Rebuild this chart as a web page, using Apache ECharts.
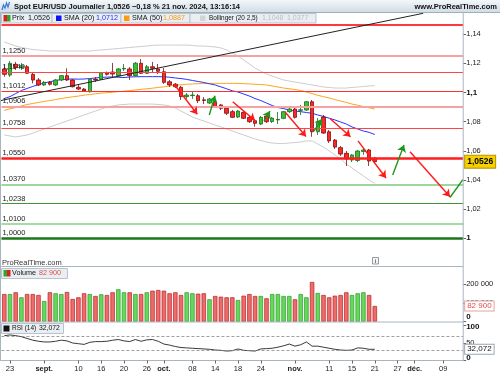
<!DOCTYPE html>
<html><head><meta charset="utf-8">
<script src="https://cdn.jsdelivr.net/npm/echarts@6/dist/echarts.min.js"></script>
<style>html,body{margin:0;padding:0;background:#fff}#c{width:500px;height:375px}</style>
</head><body><div id="c"></div>
<script>
// ---------- DATA (index -1 = 22 Aug 2024 ... 64 = 21 Nov 2024) ----------
const candleOpen  = [1.1162,1.1120,1.1194,1.1171,1.1177,1.1125,1.1086,1.1052,1.1070,1.1052,1.1086,1.1116,1.1086,1.1036,1.1024,1.1006,1.1091,1.1091,1.1136,1.1141,1.1116,1.1162,1.1162,1.1116,1.1201,1.1132,1.1177,1.1162,1.1143,1.1074,1.1057,1.1036,1.0972,1.0979,1.0978,1.0950,1.0928,1.0937,1.0915,1.0892,1.0869,1.0832,1.0864,1.0830,1.0807,1.0784,1.0839,1.0801,1.0812,1.0823,1.0869,1.0887,1.0878,1.0880,1.0937,1.0731,1.0832,1.0731,1.0674,1.0622,1.0583,1.0537,1.0534,1.0596,1.0606,1.0549];
const candleClose = [1.1125,1.1201,1.1171,1.1184,1.1132,1.1086,1.1052,1.1070,1.1057,1.1086,1.1116,1.1086,1.1040,1.1024,1.1011,1.1091,1.1086,1.1136,1.1125,1.1127,1.1162,1.1166,1.1116,1.1201,1.1132,1.1177,1.1166,1.1146,1.1070,1.1052,1.1040,1.0972,1.0983,1.0983,1.0944,1.0946,1.0956,1.0903,1.0892,1.0858,1.0830,1.0873,1.0823,1.0800,1.0789,1.0830,1.0800,1.0825,1.0816,1.0869,1.0887,1.0830,1.0882,1.0937,1.0731,1.0800,1.0722,1.0668,1.0626,1.0578,1.0544,1.0572,1.0599,1.0606,1.0530,1.0526];
const candleLow   = [1.1109,1.1107,1.1155,1.1155,1.1127,1.1063,1.1045,1.1045,1.1048,1.1045,1.1079,1.1079,1.1035,1.1018,1.1004,1.1000,1.1072,1.1086,1.1117,1.1107,1.1110,1.1148,1.1086,1.1110,1.1127,1.1127,1.1141,1.1127,1.1059,1.1038,1.1031,1.0949,1.0956,1.0956,1.0928,1.0921,1.0921,1.0894,1.0880,1.0846,1.0825,1.0825,1.0818,1.0791,1.0766,1.0777,1.0791,1.0791,1.0784,1.0818,1.0860,1.0822,1.0846,1.0873,1.0697,1.0709,1.0716,1.0654,1.0613,1.0565,1.0496,1.0523,1.0523,1.0572,1.0496,1.0517];
const candleHigh  = [1.1189,1.1216,1.1210,1.1203,1.1189,1.1134,1.1100,1.1079,1.1079,1.1093,1.1120,1.1166,1.1093,1.1052,1.1031,1.1093,1.1107,1.1141,1.1144,1.1203,1.1168,1.1196,1.1175,1.1210,1.1230,1.1189,1.1210,1.1196,1.1168,1.1086,1.1066,1.1045,1.0997,1.1004,1.0990,1.0969,1.0963,1.0949,1.0921,1.0901,1.0880,1.0880,1.0873,1.0839,1.0818,1.0839,1.0853,1.0832,1.0867,1.0873,1.0901,1.0894,1.0915,1.0942,1.0949,1.0825,1.0846,1.0743,1.0681,1.0633,1.0599,1.0578,1.0606,1.0620,1.0613,1.0558];
const volume = [146000,146000,155200,128800,146000,146000,141000,109300,155200,150000,146000,156800,119900,128800,150000,146000,135700,144700,141000,155200,171100,155200,155200,146000,146000,155200,163700,167400,163700,150000,155200,141000,155200,150000,147800,150000,118300,135700,132000,128800,128800,114600,137300,146000,135700,135700,123600,146000,146000,135700,135700,118300,146000,128800,209600,151500,141000,128800,137300,141000,155200,141000,150000,155200,141000,82900];
const rsi = [71,73,71,68,63,58,55,53,53,55,58,56,50,48,46,52,54,54,55,58,60,56,54,60,55,59,60,55,47,44,40,37,36,35,34,33,32,30,29,27,28,33,29,28,27,33,34,35,38,42,47,41,45,53,41,41,38,35,32,30,29,30,36,35,32,32.072];
const sma20 = [1.0959,1.0972,1.0993,1.1014,1.1028,1.1042,1.1054,1.1066,1.1074,1.1083,1.1089,1.1092,1.1093,1.1092,1.1093,1.1096,1.1100,1.1104,1.1106,1.1107,1.1105,1.1103,1.1107,1.1108,1.1109,1.1109,1.1109,1.1109,1.1108,1.1105,1.1100,1.1096,1.1090,1.1083,1.1076,1.1069,1.1060,1.1052,1.1039,1.1026,1.1012,1.1004,1.0990,1.0976,1.0959,1.0945,1.0928,1.0911,1.0897,1.0890,1.0880,1.0873,1.0869,1.0863,1.0858,1.0846,1.0836,1.0824,1.0812,1.0798,1.0784,1.0764,1.0750,1.0736,1.0727,1.0712];
const sma50 = [1.0877,1.0889,1.0897,1.0908,1.0918,1.0925,1.0932,1.0939,1.0945,1.0952,1.0959,1.0965,1.0971,1.0976,1.0982,1.0987,1.0991,1.0996,1.0999,1.1002,1.1006,1.1009,1.1013,1.1018,1.1022,1.1026,1.1030,1.1035,1.1039,1.1045,1.1050,1.1053,1.1057,1.1059,1.1061,1.1062,1.1063,1.1063,1.1063,1.1063,1.1063,1.1063,1.1061,1.1059,1.1057,1.1055,1.1052,1.1045,1.1038,1.1031,1.1026,1.1021,1.1014,1.1004,1.0993,1.0981,1.0972,1.0963,1.0952,1.0942,1.0932,1.0921,1.0913,1.0904,1.0895,1.0887];
const bollUpper = [1.1347,1.1333,1.1319,1.1309,1.1302,1.1295,1.1292,1.1289,1.1285,1.1285,1.1285,1.1285,1.1285,1.1285,1.1285,1.1285,1.1289,1.1292,1.1295,1.1299,1.1302,1.1306,1.1309,1.1313,1.1316,1.1319,1.1323,1.1326,1.1326,1.1326,1.1326,1.1326,1.1326,1.1323,1.1319,1.1319,1.1316,1.1313,1.1306,1.1292,1.1271,1.1251,1.1223,1.1196,1.1168,1.1148,1.1127,1.1113,1.1100,1.1086,1.1079,1.1072,1.1066,1.1059,1.1052,1.1045,1.1038,1.1035,1.1031,1.1031,1.1031,1.1035,1.1038,1.1042,1.1045,1.1048];
const bollLower = [1.0709,1.0702,1.0695,1.0702,1.0709,1.0722,1.0736,1.0750,1.0764,1.0777,1.0791,1.0805,1.0818,1.0832,1.0846,1.0860,1.0873,1.0887,1.0901,1.0908,1.0915,1.0918,1.0921,1.0921,1.0921,1.0921,1.0921,1.0918,1.0915,1.0908,1.0894,1.0873,1.0853,1.0832,1.0818,1.0805,1.0791,1.0777,1.0764,1.0750,1.0736,1.0722,1.0709,1.0695,1.0681,1.0671,1.0661,1.0654,1.0650,1.0650,1.0654,1.0657,1.0661,1.0668,1.0668,1.0647,1.0626,1.0599,1.0572,1.0544,1.0510,1.0483,1.0455,1.0428,1.0400,1.0377];

// horizontal support / resistance levels
const levelValues = [1.1465,1.1250,1.1140,1.1012,1.0906,1.0758,1.0550,1.0370,1.0238,1.0100,1.0000];
const levelLabels = ['1,1465','1,1250','1,1140','1,1012','1,0906','1,0758','1,0550','1,0370','1,0238','1,0100','1,0000'];
// drawn arrows: [bar index from, price from, bar index to, price to] (bar index 0 = 23 Aug)
const arrowsRed   = [[28.77,1.1059,32.86,1.0851],[39.07,1.0937,42.98,1.0808],[48.25,1.0867,51.93,1.0698],[56.14,1.0822,59.74,1.0697],[61.05,1.0668,65.96,1.0414],[70.18,1.0594,77.19,1.0285]];
const arrowsGreen = [[34.96,1.0846,35.96,1.0978],[44.56,1.0805,45.61,1.0873],[53.33,1.0736,54.74,1.0818],[67.14,1.0434,69.12,1.0640]];
const greenSegment = [77.19,1.0280,79.45,1.0403];
const trendLine = [[-1.75,1.0944],[72.5,1.1544]];

const priceTicks = [1,1.02,1.04,1.06,1.08,1.1,1.12,1.14];
const volumeTicks = [0,100000,200000];
const rsiTicks = [0,50,100];
const xTickDates  = ['2024-08-23','2024-09-02','2024-09-10','2024-09-16','2024-09-20','2024-09-26','2024-10-01','2024-10-08','2024-10-14','2024-10-18','2024-10-24','2024-11-01','2024-11-11','2024-11-15','2024-11-21','2024-11-27','2024-12-02','2024-12-09'];
const xTickLabels = ['23','sept.','10','16','20','26','oct.','08','14','18','24','nov.','11','15','21','27','déc.','09'];
const monthLabels = ['sept.','oct.','nov.','déc.'];

const lastPrice = 1.0526, lastVolume = 82900, lastRsi = 32.072;

// categories: trading days from 22 Aug 2024 (81 slots)
const categories = [];
(function(){ let t = Date.UTC(2024,7,22); while (categories.length < 81) { const d = new Date(t); const w = d.getUTCDay(); if (w !== 0 && w !== 6) categories.push(d.toISOString().slice(0,10)); t += 86400000; } })();

// ---------- CHART ----------
const FF = "'Liberation Sans', Arial, sans-serif";
const tickMap = {}; xTickDates.forEach((d,i)=>tickMap[d]=xTickLabels[i]);
const frNum = v => String(Number(v.toFixed(4))).replace('.', ',');

const levelStyles = [
  ['#ff3a3a',2],['#f6a2a2',2],['#ff4545',1],['#ff3030',1.2],['#f6a2a2',2],['#ff4545',1.2],
  ['#ff1c1c',2.5],['#9ed69e',2],['#3a983a',1.2],['#a6daa6',2],['#1a761a',2.5]];

const candleData = candleOpen.map((o,i)=>[o, candleClose[i], candleLow[i], candleHigh[i]]);
const volData = volume.map((v,i)=>({value:v, itemStyle: candleClose[i] >= candleOpen[i]
  ? {color:'#66d85a', borderColor:'#2c9a2c', borderWidth:0.7}
  : {color:'#ee6b6b', borderColor:'#b62222', borderWidth:0.7}}));

const arrowLines = [];
arrowsRed.forEach(a=>arrowLines.push([{coord:[a[0],a[1]], lineStyle:{color:'#ff1a1a',width:1.4,type:'solid'}},{coord:[a[2],a[3]]}]));
arrowsGreen.forEach(a=>arrowLines.push([{coord:[a[0],a[1]], lineStyle:{color:'#1e961e',width:1.4,type:'solid'}},{coord:[a[2],a[3]]}]));
arrowLines.push([{coord:[greenSegment[0],greenSegment[1]], lineStyle:{color:'#1e961e',width:1.4,type:'solid'}, symbol:'none'},{coord:[greenSegment[2],greenSegment[3]], symbol:'none'}]);

const GL = 1.45, GW = 461.7;
const axisTxt = {fontFamily:FF, fontSize:7.5, color:'#222'};
const tickInterval = (i, v) => tickMap[v] !== undefined;

const option = {
  animation:false,
  backgroundColor:'#fff',
  grid:[
    {left:GL, width:GW, top:12, height:254, outerBoundsMode:'none'},
    {left:GL, width:GW, top:266, height:55.7, outerBoundsMode:'none'},
    {left:GL, width:GW, top:325.5, height:35, outerBoundsMode:'none'}
  ],
  xAxis:[
    {type:'category', gridIndex:0, data:categories, boundaryGap:true, show:false, axisLine:{onZero:false}},
    {type:'value', gridIndex:0, min:-1.5, max:79.5, show:false, axisLine:{onZero:false}},
    {type:'category', gridIndex:1, data:categories, boundaryGap:true, show:false, axisLine:{onZero:false}},
    {type:'category', gridIndex:2, data:categories, boundaryGap:true,
      axisLine:{show:true, onZero:false, lineStyle:{color:'#a9b6c0', width:1}},
      axisTick:{show:true, interval:tickInterval, alignWithLabel:true, length:3, lineStyle:{color:'#666'}},
      axisLabel:{interval:tickInterval, margin:4, ...axisTxt,
        formatter:v => monthLabels.includes(tickMap[v]) ? '{m|'+tickMap[v]+'}' : (tickMap[v]||''),
        rich:{m:{fontWeight:'bold', fontFamily:FF, fontSize:7.5, color:'#222'}}},
      splitLine:{show:false}}
  ],
  yAxis:[
    {type:'value', gridIndex:0, position:'right', min:0.98099, max:1.15527, scale:true,
      axisLine:{show:false, onZero:false}, splitLine:{show:false},
      axisTick:{show:true, customValues:priceTicks, length:3, lineStyle:{color:'#666'}},
      axisLabel:{customValues:priceTicks, margin:3, ...axisTxt,
        formatter:v => { const s = String(Number(v.toFixed(2))).replace('.', ','); return (Math.abs(v-1.1)<1e-6||Math.abs(v-1)<1e-6) ? '{b|'+s+'}' : s; },
        rich:{b:{fontWeight:'bold', fontFamily:FF, fontSize:8, color:'#111'}}}},
    {type:'value', gridIndex:1, position:'right', min:0, max:294100,
      axisLine:{show:false, onZero:false}, splitLine:{show:false},
      axisTick:{show:true, customValues:volumeTicks, length:3, lineStyle:{color:'#666'}},
      axisLabel:{customValues:volumeTicks, margin:3, ...axisTxt,
        formatter:v => v===0 ? '{z|0}' : (v/1000)+' 000',
        rich:{z:{fontWeight:'bold', fontFamily:FF, fontSize:8, color:'#111', padding:[0,0,9,0]}}}},
    {type:'value', gridIndex:2, position:'right', min:0, max:100,
      axisLine:{show:false, onZero:false}, splitLine:{show:false},
      axisTick:{show:true, customValues:rsiTicks, length:3, lineStyle:{color:'#666'}},
      axisLabel:{customValues:rsiTicks, margin:3, ...axisTxt,
        formatter:v => v===0 ? '{z|0}' : (v===100 ? '{t|100}' : String(v)),
        rich:{z:{fontWeight:'bold', fontFamily:FF, fontSize:8, color:'#111', padding:[0,0,6,0]},
              t:{fontWeight:'bold', fontFamily:FF, fontSize:8, color:'#111', padding:[3,0,0,0]}}}}
  ],
  series:[
    {type:'line', xAxisIndex:0, yAxisIndex:0, data:[], z:1, silent:true,
      markLine:{silent:true, symbol:'none', animation:false, precision:5,
        data: levelValues.map((v,i)=>({yAxis:v, lineStyle:{color:levelStyles[i][0], width:levelStyles[i][1], type:'solid'},
          label:{show:true, position:'insideStartTop', formatter:levelLabels[i], distance:[1,1], fontFamily:FF, fontSize:7.5, color:'#222'}}))}},
    {type:'line', name:'BollUp', xAxisIndex:0, yAxisIndex:0, data:bollUpper, showSymbol:false, symbol:'none', z:2, silent:true,
      lineStyle:{color:'#cdcdcd', width:1}},
    {type:'line', name:'BollLow', xAxisIndex:0, yAxisIndex:0, data:bollLower, showSymbol:false, symbol:'none', z:2, silent:true,
      lineStyle:{color:'#cdcdcd', width:1}},
    {type:'line', name:'SMA50', xAxisIndex:0, yAxisIndex:0, data:sma50, showSymbol:false, symbol:'none', z:3, silent:true,
      lineStyle:{color:'#ffa41c', width:1}},
    {type:'line', name:'SMA20', xAxisIndex:0, yAxisIndex:0, data:sma20, showSymbol:false, symbol:'none', z:3, silent:true,
      lineStyle:{color:'#2733ff', width:1}},
    {type:'candlestick', name:'Prix', xAxisIndex:0, yAxisIndex:0, data:candleData, barWidth:4, z:4, silent:true,
      itemStyle:{color:'#36c236', color0:'#ff2626', borderColor:'#1d6a1d', borderColor0:'#7a1010', borderWidth:0.8},
      markLine:{silent:true, symbol:'none', animation:false, precision:5,
        data:[{yAxis:lastPrice, lineStyle:{color:'rgba(0,0,0,0)', width:0.1},
          label:{show:true, position:'end', distance:2, formatter:frNum(lastPrice), fontFamily:FF, fontSize:8.5, fontWeight:'bold', color:'#000',
            backgroundColor:'#f7d000', borderColor:'#b09400', borderWidth:1, padding:[2,2,1,2]}}]}},
    {type:'line', name:'Trend', xAxisIndex:1, yAxisIndex:0, data:trendLine, showSymbol:false, symbol:'none', z:5, silent:true,
      lineStyle:{color:'#222', width:1}},
    {type:'line', name:'Arrows', xAxisIndex:1, yAxisIndex:0, data:[], z:6, silent:true,
      markLine:{silent:true, symbol:['none','arrow'], symbolSize:7, animation:false, precision:5, label:{show:false},
        lineStyle:{type:'solid'}, data:arrowLines}},
    {type:'bar', name:'Volume', xAxisIndex:2, yAxisIndex:1, data:volData, barWidth:4.4, silent:true, z:3,
      markLine:{silent:true, symbol:'none', animation:false, precision:5,
        data:[{yAxis:lastVolume, lineStyle:{color:'rgba(0,0,0,0)', width:0.1},
          label:{show:true, position:'end', distance:2, formatter:'82 900', fontFamily:FF, fontSize:8, color:'#e24c4c',
            backgroundColor:'#fff', borderColor:'#e8a2a2', borderWidth:1, padding:[1,2,0,2]}}]}},
    {type:'line', name:'RSI', xAxisIndex:3, yAxisIndex:2, data:rsi, showSymbol:false, symbol:'none', silent:true, z:3,
      lineStyle:{color:'#222', width:0.9},
      markLine:{silent:true, symbol:'none', animation:false, precision:5,
        data:[
          {yAxis:70, lineStyle:{color:'#888', width:0.8, type:[3,2]}, label:{show:false}},
          {yAxis:30, lineStyle:{color:'#888', width:0.8, type:[3,2]}, label:{show:false}},
          {yAxis:lastRsi, lineStyle:{color:'rgba(0,0,0,0)', width:0.1},
            label:{show:true, position:'end', distance:2, formatter:frNum(lastRsi), fontFamily:FF, fontSize:8, color:'#111',
              backgroundColor:'#fff', borderColor:'#9aa6b0', borderWidth:1, padding:[1,2,0,2]}}]}}
  ],
  graphic:[]
};

// ---------- frame / legends (layout decoration) ----------
const G = option.graphic;
const txt = (x,y,t,opt={}) => G.push({type:'text', z:110, x, y, silent:true,
  style:Object.assign({text:t, fill:'#111', font:(opt.bold?'bold ':'')+(opt.size||7.5)+'px '+FF,
    textAlign:opt.align||'left', textVerticalAlign:'middle', align:opt.align||'left', verticalAlign:'middle'}, opt.fill?{fill:opt.fill}:{})});
const rect = (x,y,w,h,fill,stroke) => G.push({type:'rect', z:105, silent:true, shape:{x,y,width:w,height:h}, style:{fill, stroke:stroke||null, lineWidth:stroke?1:0}});
const line = (x1,y1,x2,y2,c,w) => G.push({type:'line', z:104, silent:true, shape:{x1,y1,x2,y2}, style:{stroke:c, lineWidth:w||1}});

// title bar
G.push({type:'rect', z:105, silent:true, shape:{x:0,y:0,width:500,height:12},
  style:{fill:new echarts.graphic.LinearGradient(0,0,0,1,[{offset:0,color:'#f3f7fa'},{offset:1,color:'#d2dde6'}])}});
line(0,12.5,500,12.5,'#9fb0bd',1);
G.push({type:'polyline', z:110, silent:true, shape:{points:[[2,10],[3.5,5],[5,8],[6.5,3],[8,7],[9.5,2]]}, style:{stroke:'#3d7fd6', lineWidth:1.3, fill:null}});
txt(14,6.5,'Spot EUR/USD Journalier 1,0526 \u22120,18 % 21 nov. 2024, 13:16:14',{bold:true});
txt(497,6.5,'www.ProRealTime.com',{bold:true, align:'right'});

// price legend row
rect(1.5,13.5,50.5,9.5,'#e9eef2','#b9c3cb');
rect(52,13.5,69,9.5,'#e9eef2','#b9c3cb');
rect(121,13.5,69,9.5,'#e9eef2','#b9c3cb');
rect(190,13.5,126,9.5,'#e9eef2','#b9c3cb');
rect(3.5,15,3.5,6.5,'#e02020'); rect(7,15,3.5,6.5,'#2aa82a');
txt(12,18.5,'Prix',{size:7.2}); txt(28,18.5,'1,0526',{size:7.2});
rect(56,15.5,5.5,5.5,'#1010ff'); txt(64,18.5,'SMA (20)',{size:7.2}); txt(96,18.5,'1,0712',{size:7.2, fill:'#2a2aff'});
rect(124,15.5,5.5,5.5,'#ff9a10'); txt(132,18.5,'SMA (50)',{size:7.2}); txt(163,18.5,'1,0887',{size:7.2, fill:'#ff9a10'});
rect(200,15.5,5.5,5.5,'#d4d4d4'); txt(209,18.5,'Bollinger (20 2,5)',{size:6.4}); txt(262,18.5,'1,1048',{size:7, fill:'#bdbdbd'}); txt(287,18.5,'1,0377',{size:7, fill:'#bdbdbd'});

// panel separators and borders
line(0,266.5,463.2,266.5,'#a9b6c0',1);
line(0,322,463.2,322,'#a9b6c0',1);
line(463.2,12,463.2,361,'#a9b6c0',1);
line(0.5,12,0.5,361,'#a9b6c0',1);
txt(2,262.5,'ProRealTime.com',{fill:'#333'});
rect(372.5,257.5,6,6.5,'#f4f4f4','#9a9a9a'); txt(375.5,261,'i',{bold:true, size:6, align:'center', fill:'#666'});

// volume legend
rect(1.5,268.5,66,10,'#e9eef2','#b9c3cb');
rect(3.5,270,3.5,6.5,'#2aa82a'); rect(7,270,3.5,6.5,'#e02020');
txt(12,273.5,'Volume',{size:7.2}); txt(39,273.5,'82 900',{size:7.2, fill:'#e24c4c'});
// rsi legend
rect(1.5,323.5,62,10,'#e9eef2','#b9c3cb');
rect(3.5,325.5,6,6,'#111'); txt(12,328.5,'RSI (14)',{size:6.5}); txt(39,328.5,'32,072',{size:6.8});

const chart = echarts.init(document.getElementById('c'), null, {renderer:'canvas', width:500, height:375});
chart.setOption(option);
</script>
</body></html>
